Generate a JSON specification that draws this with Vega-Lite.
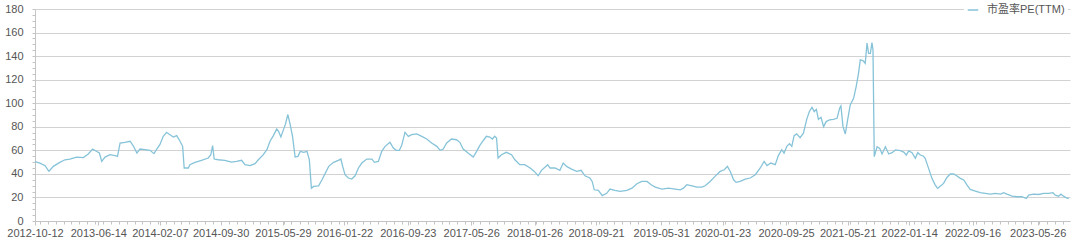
{
  "$schema": "https://vega.github.io/schema/vega-lite/v6.json",
  "width": 1035,
  "height": 212,
  "autosize": {"type": "none"},
  "padding": {"left": 35, "top": 9, "right": 10, "bottom": 27},
  "background": "white",
  "config": {"view": {"stroke": null}, "font": "Liberation Sans"},
  "data": {"values": [
    {"date":"2012-10-12","pe":50.5},{"date":"2012-10-31","pe":49.2},{"date":"2012-11-20","pe":47},{"date":"2012-12-01","pe":43.5},{"date":"2012-12-05","pe":42.3},{"date":"2012-12-22","pe":46.4},
    {"date":"2013-01-16","pe":49.8},{"date":"2013-02-05","pe":52},{"date":"2013-02-24","pe":52.6},{"date":"2013-03-22","pe":54.3},{"date":"2013-04-17","pe":53.8},{"date":"2013-05-06","pe":56.9},{"date":"2013-05-23","pe":61},{"date":"2013-06-08","pe":59},{"date":"2013-06-18","pe":57.7},{"date":"2013-06-27","pe":50.6},{"date":"2013-07-10","pe":54.3},{"date":"2013-07-29","pe":56.3},{"date":"2013-08-18","pe":55.5},{"date":"2013-08-27","pe":54.9},{"date":"2013-09-06","pe":66.2},{"date":"2013-09-25","pe":66.8},{"date":"2013-10-15","pe":67.7},{"date":"2013-10-28","pe":63.4},{"date":"2013-11-10","pe":57.7},{"date":"2013-11-22","pe":61.1},{"date":"2013-12-12","pe":60.6},{"date":"2013-12-31","pe":60},
    {"date":"2014-01-15","pe":57.2},{"date":"2014-01-26","pe":61.1},{"date":"2014-02-07","pe":64.8},{"date":"2014-02-20","pe":71.9},{"date":"2014-03-05","pe":75.3},{"date":"2014-03-18","pe":73.3},{"date":"2014-03-31","pe":71.3},{"date":"2014-04-13","pe":72.5},{"date":"2014-04-26","pe":67.7},{"date":"2014-05-06","pe":63.4},{"date":"2014-05-12","pe":45},{"date":"2014-05-28","pe":45},{"date":"2014-06-03","pe":47.8},{"date":"2014-06-23","pe":49.8},{"date":"2014-07-18","pe":51.5},{"date":"2014-08-13","pe":53.5},{"date":"2014-08-23","pe":56.3},{"date":"2014-08-30","pe":64},{"date":"2014-09-05","pe":52.6},{"date":"2014-09-21","pe":52},{"date":"2014-10-16","pe":51.5},{"date":"2014-11-11","pe":50},{"date":"2014-12-01","pe":50.6},{"date":"2014-12-20","pe":51.5},
    {"date":"2015-01-02","pe":47.8},{"date":"2015-01-22","pe":47},{"date":"2015-02-10","pe":48.7},{"date":"2015-02-23","pe":52},{"date":"2015-03-14","pe":56.3},{"date":"2015-03-28","pe":60.6},{"date":"2015-04-09","pe":67.7},{"date":"2015-04-22","pe":72.5},{"date":"2015-05-05","pe":78.2},{"date":"2015-05-12","pe":76.2},{"date":"2015-05-21","pe":71.3},{"date":"2015-05-31","pe":77.6},{"date":"2015-06-07","pe":81.8},{"date":"2015-06-17","pe":90.4},{"date":"2015-06-26","pe":81.8},{"date":"2015-07-05","pe":71.9},{"date":"2015-07-15","pe":54.3},{"date":"2015-07-26","pe":54.9},{"date":"2015-08-04","pe":59.1},{"date":"2015-08-17","pe":58.3},{"date":"2015-08-30","pe":59.1},{"date":"2015-09-08","pe":52},{"date":"2015-09-16","pe":27.9},{"date":"2015-09-25","pe":29.4},{"date":"2015-10-14","pe":29.9},{"date":"2015-10-27","pe":35},{"date":"2015-11-09","pe":40.7},{"date":"2015-11-22","pe":46.4},{"date":"2015-12-11","pe":49.8},{"date":"2015-12-29","pe":51.5},
    {"date":"2016-01-08","pe":52.6},{"date":"2016-01-15","pe":46.4},{"date":"2016-01-24","pe":39.3},{"date":"2016-02-06","pe":36.5},{"date":"2016-02-19","pe":35.6},{"date":"2016-03-03","pe":38.4},{"date":"2016-03-16","pe":45},{"date":"2016-03-29","pe":49.2},{"date":"2016-04-17","pe":52.6},{"date":"2016-05-07","pe":52.6},{"date":"2016-05-17","pe":49.8},{"date":"2016-06-01","pe":50.6},{"date":"2016-06-14","pe":59.1},{"date":"2016-06-27","pe":63.4},{"date":"2016-07-16","pe":66.8},{"date":"2016-07-29","pe":62},{"date":"2016-08-09","pe":60},{"date":"2016-08-21","pe":60},{"date":"2016-08-30","pe":64},{"date":"2016-09-12","pe":75.3},{"date":"2016-09-25","pe":71.9},{"date":"2016-10-08","pe":73.3},{"date":"2016-10-27","pe":73.9},{"date":"2016-11-16","pe":71.9},{"date":"2016-12-05","pe":69.6},{"date":"2016-12-24","pe":66.2},
    {"date":"2017-01-13","pe":63.4},{"date":"2017-01-26","pe":60},{"date":"2017-02-07","pe":61.1},{"date":"2017-02-20","pe":66.2},{"date":"2017-03-11","pe":69.6},{"date":"2017-03-30","pe":69},{"date":"2017-04-12","pe":66.8},{"date":"2017-04-25","pe":61.1},{"date":"2017-05-14","pe":57.7},{"date":"2017-06-03","pe":54.3},{"date":"2017-06-16","pe":59.1},{"date":"2017-06-28","pe":64},{"date":"2017-07-14","pe":69},{"date":"2017-07-24","pe":71.9},{"date":"2017-08-06","pe":71.3},{"date":"2017-08-16","pe":69.6},{"date":"2017-08-25","pe":72},{"date":"2017-09-01","pe":70.5},{"date":"2017-09-07","pe":53.5},{"date":"2017-09-20","pe":56.3},{"date":"2017-10-09","pe":58.3},{"date":"2017-10-29","pe":56.3},{"date":"2017-11-11","pe":52},{"date":"2017-11-30","pe":47.8},{"date":"2017-12-19","pe":47.8},
    {"date":"2018-01-09","pe":45},{"date":"2018-01-25","pe":42.1},{"date":"2018-02-09","pe":38.4},{"date":"2018-02-22","pe":43},{"date":"2018-03-18","pe":47.8},{"date":"2018-03-27","pe":45},{"date":"2018-04-15","pe":45},{"date":"2018-05-04","pe":43},{"date":"2018-05-17","pe":49.2},{"date":"2018-05-30","pe":46.4},{"date":"2018-06-18","pe":44.1},{"date":"2018-07-08","pe":42.1},{"date":"2018-07-25","pe":43},{"date":"2018-08-09","pe":38.4},{"date":"2018-08-28","pe":36.5},{"date":"2018-09-06","pe":33.6},{"date":"2018-09-14","pe":26.5},{"date":"2018-09-30","pe":26},{"date":"2018-10-15","pe":21.5},{"date":"2018-11-01","pe":23.5},{"date":"2018-11-14","pe":27.1},{"date":"2018-12-03","pe":26},{"date":"2018-12-23","pe":25.1},
    {"date":"2019-01-18","pe":26},{"date":"2019-02-07","pe":27.9},{"date":"2019-02-26","pe":31.6},{"date":"2019-03-17","pe":33.6},{"date":"2019-04-06","pe":33.6},{"date":"2019-04-22","pe":30.8},{"date":"2019-05-08","pe":28.8},{"date":"2019-06-03","pe":27.1},{"date":"2019-06-28","pe":27.9},{"date":"2019-07-24","pe":27.1},{"date":"2019-08-13","pe":26.5},{"date":"2019-08-25","pe":27.9},{"date":"2019-09-07","pe":30.8},{"date":"2019-09-27","pe":29.9},{"date":"2019-10-16","pe":28.8},{"date":"2019-11-04","pe":28.8},{"date":"2019-11-17","pe":29.9},{"date":"2019-12-06","pe":33.6},{"date":"2019-12-25","pe":37.9},
    {"date":"2020-01-14","pe":42.1},{"date":"2020-01-30","pe":43.5},{"date":"2020-02-11","pe":46.4},{"date":"2020-02-22","pe":42.1},{"date":"2020-03-06","pe":35},{"date":"2020-03-16","pe":32.8},{"date":"2020-03-31","pe":33.6},{"date":"2020-04-20","pe":35.6},{"date":"2020-05-09","pe":36.5},{"date":"2020-05-29","pe":39.3},{"date":"2020-06-17","pe":45},{"date":"2020-07-02","pe":50.6},{"date":"2020-07-13","pe":47},{"date":"2020-07-28","pe":49.2},{"date":"2020-08-14","pe":47.8},{"date":"2020-08-26","pe":55.5},{"date":"2020-09-08","pe":60.6},{"date":"2020-09-17","pe":57.7},{"date":"2020-09-28","pe":63.4},{"date":"2020-10-08","pe":65.7},{"date":"2020-10-17","pe":63.4},{"date":"2020-10-26","pe":72.5},{"date":"2020-11-05","pe":74},{"date":"2020-11-18","pe":70.8},{"date":"2020-12-01","pe":74.6},{"date":"2020-12-14","pe":86.5},{"date":"2020-12-24","pe":93},
    {"date":"2021-01-03","pe":96.5},{"date":"2021-01-12","pe":92.9},{"date":"2021-01-20","pe":94.8},{"date":"2021-01-28","pe":86.3},{"date":"2021-02-07","pe":88},{"date":"2021-02-17","pe":80.1},{"date":"2021-02-27","pe":84.4},{"date":"2021-03-12","pe":85.8},{"date":"2021-03-27","pe":86.3},{"date":"2021-04-10","pe":87.2},{"date":"2021-04-20","pe":95.7},{"date":"2021-04-25","pe":97.7},{"date":"2021-05-03","pe":80.1},{"date":"2021-05-12","pe":73.9},{"date":"2021-05-21","pe":85.8},{"date":"2021-05-31","pe":98.5},{"date":"2021-06-13","pe":104.2},{"date":"2021-06-23","pe":114.1},{"date":"2021-07-02","pe":125.4},{"date":"2021-07-09","pe":136.8},{"date":"2021-07-19","pe":136.2},{"date":"2021-07-28","pe":133.9},{"date":"2021-08-04","pe":151},{"date":"2021-08-10","pe":142.4},{"date":"2021-08-17","pe":142.4},{"date":"2021-08-23","pe":151.5},{"date":"2021-08-27","pe":145.3},{"date":"2021-09-01","pe":54.6},{"date":"2021-09-12","pe":63.1},{"date":"2021-09-22","pe":61.7},{"date":"2021-10-01","pe":56.9},{"date":"2021-10-14","pe":63.1},{"date":"2021-10-27","pe":56.9},{"date":"2021-11-09","pe":58},{"date":"2021-11-22","pe":60.3},{"date":"2021-12-11","pe":59.7},{"date":"2021-12-24","pe":58.5},
    {"date":"2022-01-03","pe":56},{"date":"2022-01-12","pe":59.5},{"date":"2022-01-25","pe":58},{"date":"2022-02-07","pe":53.2},{"date":"2022-02-16","pe":58},{"date":"2022-02-26","pe":56},{"date":"2022-03-09","pe":55.2},{"date":"2022-03-17","pe":53.2},{"date":"2022-03-30","pe":44.7},{"date":"2022-04-12","pe":36.2},{"date":"2022-04-25","pe":30.5},{"date":"2022-05-04","pe":27.7},{"date":"2022-05-14","pe":29.6},{"date":"2022-05-27","pe":31.9},{"date":"2022-06-09","pe":37},{"date":"2022-06-22","pe":39.9},{"date":"2022-07-05","pe":39.9},{"date":"2022-07-18","pe":38.2},{"date":"2022-07-31","pe":36.2},{"date":"2022-08-13","pe":34.8},{"date":"2022-08-26","pe":30.5},{"date":"2022-09-07","pe":26.8},{"date":"2022-09-27","pe":25.4},{"date":"2022-10-16","pe":24},{"date":"2022-11-04","pe":23.4},{"date":"2022-11-24","pe":22.8},{"date":"2022-12-13","pe":23.4},
    {"date":"2023-01-03","pe":22.8},{"date":"2023-01-14","pe":24},{"date":"2023-01-27","pe":22.8},{"date":"2023-02-16","pe":21.1},{"date":"2023-03-07","pe":20.6},{"date":"2023-03-26","pe":20.6},{"date":"2023-04-12","pe":19.1},{"date":"2023-04-21","pe":22},{"date":"2023-05-10","pe":22.8},{"date":"2023-05-30","pe":22.5},{"date":"2023-06-18","pe":23.4},{"date":"2023-07-07","pe":23.4},{"date":"2023-07-24","pe":24},{"date":"2023-08-02","pe":22},{"date":"2023-08-15","pe":21.1},{"date":"2023-08-24","pe":22.8},{"date":"2023-09-03","pe":21.1},{"date":"2023-09-14","pe":19.7},{"date":"2023-09-23","pe":19.1}
  ]},
  "layer": [
    {
      "mark": {"type": "line", "strokeWidth": 1.3},
      "encoding": {
        "x": {
          "field": "date", "type": "temporal",
          "scale": {"type": "utc", "domain": [{"year": 2012, "month": 10, "date": 12, "utc": true}, {"year": 2023, "month": 9, "date": 28, "utc": true}]},
          "axis": {
            "title": null,
            "values": [
              {"year": 2012, "month": 10, "date": 12, "utc": true},
              {"year": 2013, "month": 6, "date": 14, "utc": true},
              {"year": 2014, "month": 2, "date": 7, "utc": true},
              {"year": 2014, "month": 9, "date": 30, "utc": true},
              {"year": 2015, "month": 5, "date": 29, "utc": true},
              {"year": 2016, "month": 1, "date": 22, "utc": true},
              {"year": 2016, "month": 9, "date": 23, "utc": true},
              {"year": 2017, "month": 5, "date": 26, "utc": true},
              {"year": 2018, "month": 1, "date": 26, "utc": true},
              {"year": 2018, "month": 9, "date": 21, "utc": true},
              {"year": 2019, "month": 5, "date": 31, "utc": true},
              {"year": 2020, "month": 1, "date": 23, "utc": true},
              {"year": 2020, "month": 9, "date": 25, "utc": true},
              {"year": 2021, "month": 5, "date": 21, "utc": true},
              {"year": 2022, "month": 1, "date": 14, "utc": true},
              {"year": 2022, "month": 9, "date": 16, "utc": true},
              {"year": 2023, "month": 5, "date": 26, "utc": true}
            ],
            "labelExpr": "utcFormat(datum.value, '%Y-%m-%d')",
            "labelFlush": false,
            "labelOverlap": false,
            "labelFontSize": 11,
            "labelColor": "#555555",
            "labelPadding": 2,
            "tickSize": 4,
            "tickColor": "#c4c4c4",
            "domainColor": "#c4c4c4",
            "grid": false
          }
        },
        "y": {
          "field": "pe", "type": "quantitative",
          "scale": {"domain": [0, 180], "nice": false},
          "axis": {
            "title": null,
            "values": [0, 20, 40, 60, 80, 100, 120, 140, 160, 180],
            "grid": true,
            "gridColor": "#d2d2d2",
            "ticks": false,
            "domain": true,
            "domainColor": "#c4c4c4",
            "labelPadding": 12,
            "labelFontSize": 11,
            "labelColor": "#555555",
            "labelFlush": false,
            "labelOverlap": false
          }
        },
        "color": {
          "datum": "市盈率PE(TTM)",
          "scale": {"range": ["#86c3d8"]},
          "legend": {
            "title": null,
            "orient": "none",
            "legendX": 929,
            "legendY": -8,
            "symbolType": "stroke",
            "symbolSize": 110,
            "symbolStrokeWidth": 1.5,
            "labelFont": "Liberation Sans, Noto Sans CJK SC",
            "labelFontSize": 11,
            "labelColor": "#555555",
            "labelOffset": 8,
            "fillColor": "white",
            "padding": 3
          }
        }
      }
    },
    {
      "mark": {"type": "line", "opacity": 0},
      "encoding": {
        "x": {
          "field": "date", "type": "temporal",
          "scale": {"type": "utc", "domain": [{"year": 2012, "month": 10, "date": 12, "utc": true}, {"year": 2023, "month": 9, "date": 28, "utc": true}]},
          "axis": {"orient": "bottom", "title": null, "labels": false, "domain": false, "grid": false, "tickCount": {"interval": "month", "step": 1}, "tickSize": 3, "tickColor": "#c4c4c4"}
        },
        "y": {
          "field": "pe", "type": "quantitative",
          "scale": {"domain": [0, 180], "nice": false},
          "axis": {"orient": "left", "title": null, "labels": false, "domain": false, "grid": false, "tickCount": 36, "tickSize": 3, "tickColor": "#c4c4c4"}
        }
      }
    }
  ],
  "resolve": {"axis": {"x": "independent", "y": "independent"}}
}
